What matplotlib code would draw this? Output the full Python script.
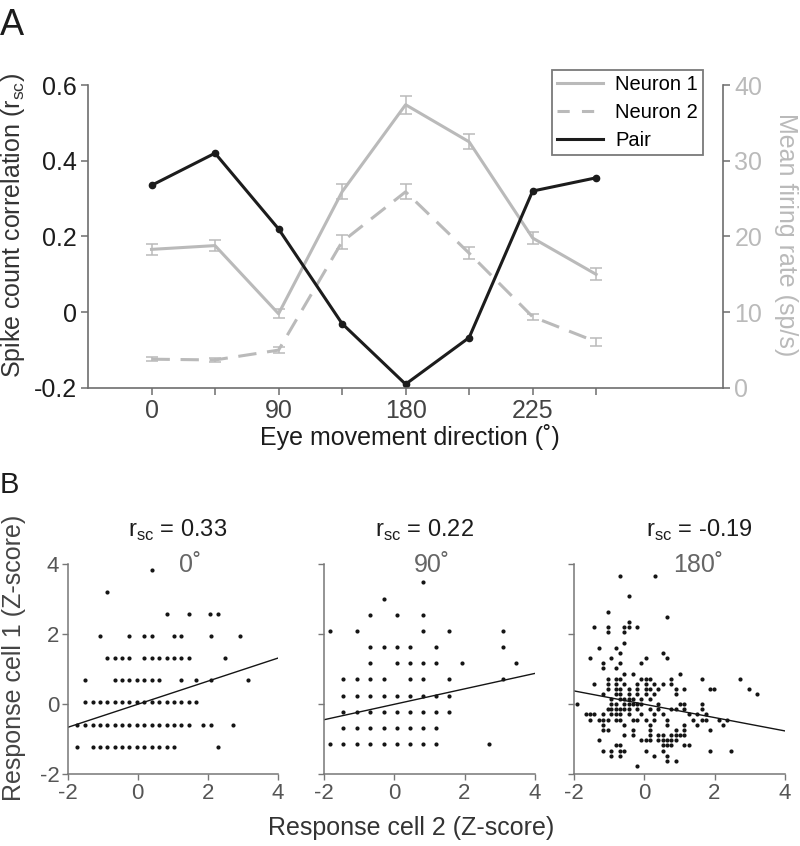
import matplotlib.pyplot as plt
import numpy as np
from matplotlib.lines import Line2D

plt.rcParams["font.family"] = ["Liberation Sans", "DejaVu Sans"]
plt.rcParams["axes.unicode_minus"] = False

LIGHT = "#bababa"
SPINE = "#6e6e6e"
DEG = "\u02da"

# Panel A: tuning curves and pair correlation vs direction
directions = [0, 45, 90, 135, 180, 225, 270, 315]
direction_labels = ["0", "", "90", "", "180", "", "225", ""]
pair_rsc = [0.335, 0.42, 0.22, -0.03, -0.19, -0.067, 0.32, 0.355]
neuron1_rate = [18.3, 18.8, 9.8, 25.9, 37.4, 32.5, 19.8, 15.0]
neuron1_sem = [0.7, 0.7, 0.6, 1.0, 1.2, 1.0, 0.8, 0.8]
neuron2_rate = [3.8, 3.7, 5.0, 19.3, 25.9, 17.8, 9.4, 6.1]
neuron2_sem = [0.3, 0.3, 0.4, 0.9, 1.0, 0.8, 0.4, 0.5]

# Panel B: z-scored responses, stored as (cell 1 level, [cell 2 values])
rows_0deg = [
    (3.84, [0.40]),
    (3.20, [-0.87]),
    (2.58, [0.82, 1.45, 2.07, 2.29]),
    (1.95, [-1.09, -0.24, 0.18, 0.40, 1.02, 1.24, 2.08, 2.92]),
    (1.31, [-0.87, -0.66, -0.45, -0.24, 0.18, 0.40, 0.61, 0.82, 1.02, 1.24, 1.45, 2.50]),
    (0.70, [-1.50, -0.66, -0.45, -0.24, -0.03, 0.18, 0.40, 0.61, 1.24, 1.66, 2.08, 3.13]),
    (0.06, [-1.50, -1.29, -1.08, -0.87, -0.66, -0.45, -0.24, -0.03, 0.18, 0.40, 0.61,
            0.82, 1.02, 1.24, 1.45, 1.66]),
    (-0.58, [-1.72, -1.50, -1.29, -1.08, -0.87, -0.66, -0.45, -0.24, -0.03, 0.18, 0.40,
             0.61, 0.82, 1.02, 1.24, 1.45, 1.87, 2.08, 2.71]),
    (-1.21, [-1.72, -1.29, -1.08, -0.87, -0.66, -0.45, -0.24, -0.03, 0.18, 0.40, 0.61,
             0.82, 1.02, 2.29]),
]
rows_90deg = [
    (3.48, [0.81]),
    (3.02, [-0.31]),
    (2.56, [-0.70, 0.07, 0.81]),
    (2.10, [-1.84, -1.08, 0.81, 1.57, 3.09]),
    (1.64, [-0.70, -0.31, 0.07, 0.44, 1.19, 3.09]),
    (1.17, [-0.70, 0.07, 0.44, 0.81, 1.19, 1.94, 3.47]),
    (0.71, [-1.46, -1.08, -0.70, -0.31, 0.44, 0.81, 1.57, 3.09]),
    (0.25, [-1.46, -1.08, -0.70, -0.31, 0.07, 0.44, 0.81, 1.19, 1.57]),
    (-0.21, [-1.46, -1.08, -0.70, -0.31, 0.07, 0.44, 0.81, 1.19, 1.57]),
    (-0.68, [-1.46, -1.08, -0.70, -0.31, 0.07, 0.44, 0.81, 1.19]),
    (-1.14, [-1.84, -1.46, -1.08, -0.70, -0.31, 0.07, 0.44, 0.81, 1.19, 2.70]),
]
rows_180deg = [
    (3.67, [-0.70, 0.29]),
    (3.09, [-0.45]),
    (2.64, [-1.05]),
    (2.49, [0.65]),
    (2.35, [-0.45]),
    (2.20, [-1.43, -1.05, -0.58, -0.45, -0.20]),
    (2.06, [-1.05, -0.58]),
    (1.76, [-0.58]),
    (1.61, [-1.30, -0.82]),
    (1.47, [-0.70, 0.53]),
    (1.31, [-1.55, -0.94, 0.04, 0.65]),
    (1.17, [-1.18, -0.70, -0.09]),
    (1.03, [-1.18, -0.82]),
    (0.87, [-0.58, -0.33, 1.02]),
    (0.72, [-1.05, -0.82, -0.70, -0.09, 0.04, 0.16, 0.76, 1.63, 2.72]),
    (0.58, [-1.43, -1.05, -0.82, -0.58, -0.20, 0.04, 0.28, 0.53, 0.76]),
    (0.44, [-1.05, -0.82, -0.70, -0.45, -0.20, 0.04, 0.16, 0.40, 0.91, 1.14, 1.87, 1.99, 2.97]),
    (0.29, [-1.18, -0.82, -0.70, -0.45, -0.20, 0.04, 0.28, 0.91, 3.21]),
    (0.14, [-0.94, -0.70, -0.58, -0.45, -0.33, -0.09, 0.16]),
    (0.00, [-1.93, -0.94, -0.82, -0.58, -0.45, -0.33, -0.20, -0.09, 0.40, 1.02, 1.14, 1.63]),
    (-0.14, [-1.05, -0.94, -0.82, -0.70, -0.58, -0.45, -0.20, 0.16, 0.40, 0.76, 0.91, 1.14, 1.63]),
    (-0.29, [-1.68, -1.55, -1.43, -1.18, -0.94, -0.82, -0.70, -0.45, -0.09, 0.28, 0.53,
             1.26, 1.51, 1.76]),
    (-0.45, [-1.55, -1.30, -1.18, -1.05, -0.82, -0.70, -0.33, -0.20, 0.04, 0.28, 0.65,
             1.38, 1.63, 1.76, 2.12, 2.36]),
    (-0.59, [-1.18, -0.58, 0.16, 0.65, 1.14, 1.51, 2.24]),
    (-0.73, [-1.18, -1.05, -0.33, 0.16, 0.91, 1.14, 1.87]),
    (-0.89, [-0.58, -0.33, 0.16, 0.40, 0.53, 0.76, 0.91, 1.02, 1.14]),
    (-1.03, [-1.30, -0.09, 0.04, 0.16, 0.40, 0.53, 0.65, 0.76, 0.91]),
    (-1.17, [-0.82, -0.70, 0.53, 0.65, 0.76, 1.14, 1.26]),
    (-1.33, [-1.18, -0.94, -0.70, -0.58, 0.04, 0.53, 1.87, 2.48]),
    (-1.48, [-0.94, -0.70, 0.28, 0.65]),
    (-1.61, [0.65, 0.91]),
    (-1.76, [-0.20]),
]
scatter_rows = [rows_0deg, rows_90deg, rows_180deg]
scatter_rsc = [0.33, 0.22, -0.19]
scatter_dirs = ["0", "90", "180"]
rsc_text_x = [0.524, 0.475, 0.595]
dir_text_x = [0.583, 0.511, 0.59]

fig = plt.figure(figsize=(8, 8.46), dpi=100)

# ---- Panel A ----
ax = fig.add_axes([0.11, 0.5414, 0.794, 0.3581])
ax_rate = ax.twinx()
ax.set_zorder(ax_rate.get_zorder() + 1)
ax.patch.set_visible(False)

ax_rate.errorbar(directions, neuron1_rate, yerr=neuron1_sem, color=LIGHT, lw=2.2,
                 ecolor=LIGHT, elinewidth=1.1, capsize=4, capthick=1.1)
line2, _, _ = ax_rate.errorbar(directions, neuron2_rate, yerr=neuron2_sem, color=LIGHT,
                               lw=2.2, ecolor=LIGHT, elinewidth=1.1, capsize=4, capthick=1.1)
line2.set_dashes((6, 3.5))
ax.plot(directions, pair_rsc, color="#1c1c1c", lw=2.2, marker="o", ms=4.5, clip_on=False)

ax.set_xlim(-45, 405)
ax.set_ylim(-0.2, 0.6)
ax_rate.set_ylim(0, 40)
ax.set_xticks(directions)
ax.set_xticklabels(direction_labels, color="#444444", fontsize=18)
ax.set_yticks([-0.2, 0, 0.2, 0.4, 0.6])
ax.set_yticklabels(["-0.2", "0", "0.2", "0.4", "0.6"], color="#1c1c1c", fontsize=18)
ax_rate.set_yticks([0, 10, 20, 30, 40])
ax_rate.set_yticklabels(["0", "10", "20", "30", "40"], color=LIGHT, fontsize=18)

for a in (ax, ax_rate):
    a.spines["top"].set_visible(False)
    for s in a.spines.values():
        s.set_color(SPINE)
        s.set_linewidth(1.2)
    a.tick_params(direction="out", length=5, width=1.1, color=SPINE, pad=3)
ax.spines["right"].set_visible(False)
ax_rate.spines["left"].set_visible(False)
ax_rate.spines["bottom"].set_visible(False)

fig.text(0.5125, 0.4835, f"Eye movement direction ({DEG})", ha="center", va="center",
         fontsize=18, color="#1c1c1c")
fig.text(0.016, 0.733, r"Spike count correlation (r$_{\mathregular{sc}}$)", rotation=90,
         ha="center", va="center", fontsize=18, color="#333333")
fig.text(0.9825, 0.723, "Mean firing rate (sp/s)", rotation=270, ha="center",
         va="center", fontsize=18, color=LIGHT)

handles = [
    Line2D([], [], color=LIGHT, lw=2.2),
    Line2D([], [], color=LIGHT, lw=2.2, dashes=(4, 4)),
    Line2D([], [], color="#1c1c1c", lw=2.2),
]
leg = ax.legend(handles, ["Neuron 1", "Neuron 2", "Pair"], loc="upper right",
                bbox_to_anchor=(0.879, 0.917), bbox_transform=fig.transFigure,
                fontsize=14.5, fancybox=False, framealpha=1, edgecolor="#7a7a7a",
                handlelength=2.3, labelspacing=0.45, borderpad=0.25, handletextpad=0.6,
                borderaxespad=0)
leg.get_frame().set_linewidth(1.3)

fig.text(0.0, 0.9586, "A", fontsize=26, va="baseline", color="#1c1c1c")

# ---- Panel B ----
x_line = np.array([-2, 4])
lefts = [0.0846, 0.4054, 0.7179]
for i, rows in enumerate(scatter_rows):
    bx = fig.add_axes([lefts[i], 0.0848, 0.2629, 0.2482])
    xs = [x for level, vals in rows for x in vals]
    ys = [level for level, vals in rows for _ in vals]
    bx.plot(xs, ys, "o", color="#151515", ms=3, mec="none", clip_on=False)
    bx.plot(x_line, scatter_rsc[i] * x_line, color="#151515", lw=1.0)
    bx.set_xlim(-2, 4)
    bx.set_ylim(-2, 4)
    bx.set_xticks([-2, 0, 2, 4])
    bx.set_yticks([-2, 0, 2, 4])
    bx.tick_params(direction="out", length=4, width=1, color="#777777",
                   labelsize=16, labelcolor="#555555", pad=2)
    if i > 0:
        bx.set_yticklabels([])
    for side in ("top", "right"):
        bx.spines[side].set_visible(False)
    for side in ("left", "bottom"):
        bx.spines[side].set_color("#777777")
        bx.spines[side].set_linewidth(1.1)
    bx.text(rsc_text_x[i], 1.131,
            r"r$_{\mathregular{sc}}$ = " + f"{scatter_rsc[i]:.2f}",
            transform=bx.transAxes, ha="center", va="baseline", fontsize=17,
            color="#1c1c1c")
    bx.text(dir_text_x[i], 0.963, scatter_dirs[i] + DEG, transform=bx.transAxes,
            ha="center", va="baseline", fontsize=18, color="#666666")

fig.text(0.514, 0.0213, "Response cell 2 (Z-score)", ha="center", va="center",
         fontsize=18, color="#333333")
fig.text(0.0175, 0.2222, "Response cell 1 (Z-score)", rotation=90, ha="center",
         va="center", fontsize=18, color="#444444")
fig.text(0.0, 0.4173, "B", fontsize=21, va="baseline", color="#1c1c1c")

fig.savefig("out.png", dpi=100)
